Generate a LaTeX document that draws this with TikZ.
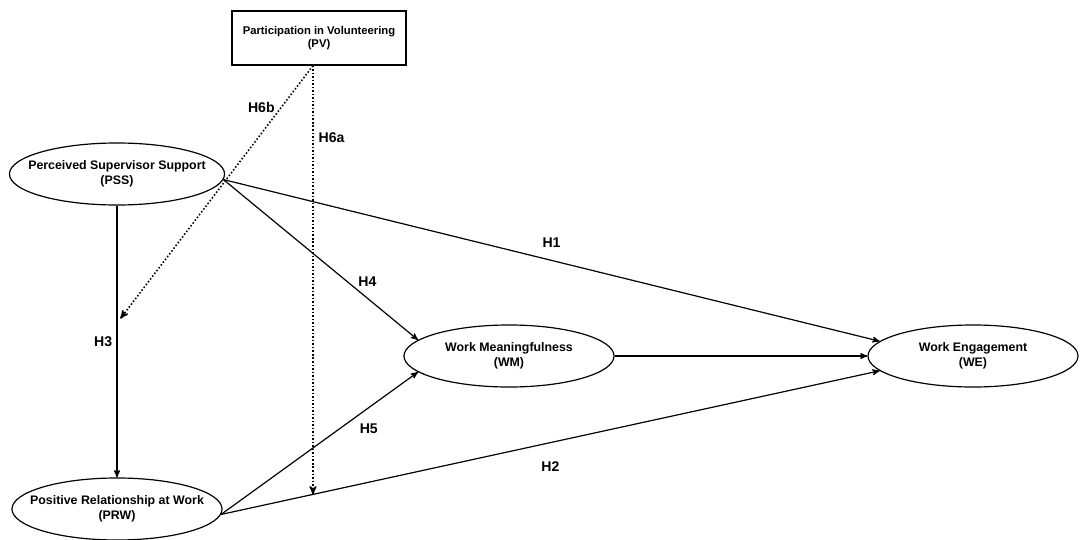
\documentclass[tikz,border=0pt]{standalone}
\usepackage{fontspec}
\setmainfont{Liberation Sans}
\usetikzlibrary{arrows,shapes,positioning}

\begin{document}
\begin{tikzpicture}[->,>=stealth',line width=0.85pt,x=0.025cm,y=-0.025cm]
 \tikzstyle{construct}=[draw,ellipse,inner xsep=-9pt,inner ysep=0pt,minimum width=5.25cm,minimum height=1.55cm,align=center,font=\fontsize{8.8}{11}\selectfont\bfseries]
 \tikzstyle{moderator}=[draw,rectangle,line width=1pt,minimum width=4.35cm,minimum height=1.35cm,align=center,font=\fontsize{8}{8.8}\selectfont\bfseries]
 \tikzstyle{hyp}=[inner sep=0pt,font=\fontsize{10}{12}\selectfont\bfseries]
 \tikzstyle{moderation}=[->,line width=1.1pt,dash pattern=on 1.1pt off 1.4pt]

   \useasboundingbox (0,0) rectangle (1081,540);

   \node[construct] (pss) at (117,174) {Perceived Supervisor Support\\(PSS)};
   \node[construct] (prw) at (117,509) {Positive Relationship at Work\\(PRW)};
   \node[construct] (wm) at (509,356) {Work Meaningfulness\\(WM)};
   \node[construct] (we) at (973,356) {Work Engagement\\(WE)};
   \node[moderator] (pv) at (319,38) {Participation in Volunteering\\(PV)};
   \coordinate (pvout) at ([xshift=-4.3pt]pv.south);

   \path[->]
   (pss.-3) edge node[hyp,pos=0.5,above=8.5pt] (lh1) {H1} (we.171)
   (pss.-3) edge node[hyp,pos=0.74,above=8pt] (lh4) {H4} (wm.170)
   (wm.east) edge (we.west)
   (prw.-3) edge node[hyp,pos=0.75,below=11.4pt] (lh5) {H5} (wm.190)
   (prw.-3) edge node[hyp,pos=0.5,below=12.8pt] (lh2) {H2} node[coordinate,pos=0.139] (h2x) {} (we.189)
   (pss.south) edge node[hyp,pos=0.5,left=3pt] (lh3) {H3} node[coordinate,pos=0.432] (h3x) {} (prw.north);

   % moderation
   \draw[moderation] (pvout) -- node[hyp,pos=0.167,right=3.5pt] (lh6a) {H6a} (pvout |- h2x);
   \draw[moderation,shorten >=4pt] (pvout) -- node[hyp,pos=0.163,left=4pt] (lh6b) {H6b} (h3x);

\end{tikzpicture}
\end{document}
